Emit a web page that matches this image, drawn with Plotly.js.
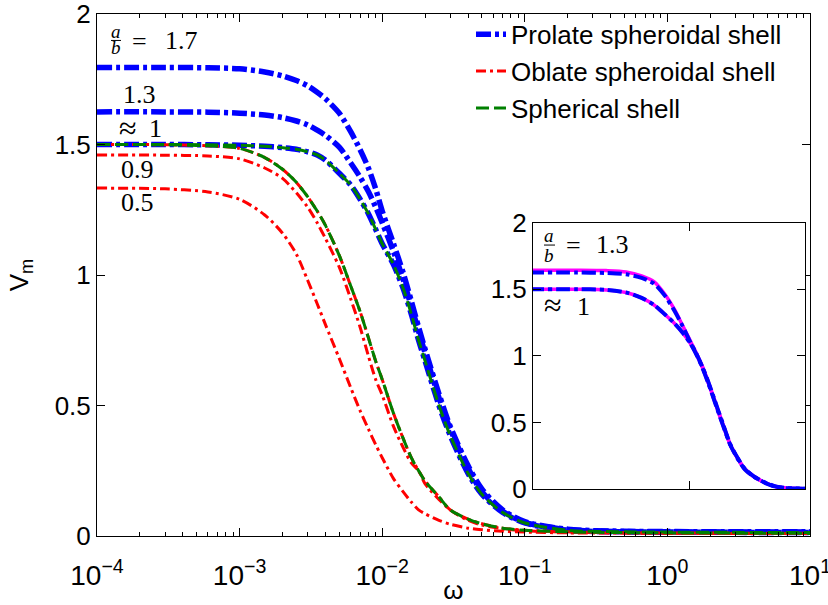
<!DOCTYPE html>
<html>
<head>
<meta charset="utf-8">
<script src="https://cdn.plot.ly/plotly-3.0.1.min.js"></script>
<style>html,body{margin:0;padding:0;background:#fff;}#chart{width:828px;height:605px;}</style>
</head>
<body>
<div id="chart"></div>
<script>
// ---- data ----
const omega = [1e-4, 3e-4, 6e-4, 1e-3, 1.5e-3, 2e-3, 2.5e-3, 3e-3, 3.5e-3, 4e-3,
  5e-3, 6e-3, 7e-3, 8e-3, 9e-3, 0.01, 0.012, 0.014, 0.016, 0.018, 0.02,
  0.025, 0.03, 0.04, 0.05, 0.07, 0.1, 0.2, 0.5, 1, 3, 10];

const prolate_17 = [1.795, 1.795, 1.794, 1.79, 1.778, 1.763, 1.745, 1.725, 1.70, 1.675,
  1.62, 1.55, 1.48, 1.41, 1.33, 1.245, 1.12, 1.01, 0.90, 0.80, 0.715,
  0.545, 0.42, 0.27, 0.18, 0.10, 0.055, 0.026, 0.018, 0.017, 0.016, 0.016];
const prolate_13 = [1.625, 1.625, 1.624, 1.62, 1.613, 1.603, 1.59, 1.575, 1.555, 1.535,
  1.49, 1.43, 1.375, 1.32, 1.26, 1.2, 1.09, 0.985, 0.88, 0.785, 0.70,
  0.53, 0.41, 0.26, 0.17, 0.095, 0.052, 0.024, 0.017, 0.016, 0.015, 0.015];
const prolate_1 = [1.5, 1.5, 1.499, 1.497, 1.493, 1.488, 1.482, 1.472, 1.46, 1.44,
  1.39, 1.345, 1.29, 1.235, 1.175, 1.12, 1.04, 0.95, 0.85, 0.75, 0.67,
  0.50, 0.385, 0.24, 0.16, 0.09, 0.05, 0.022, 0.016, 0.015, 0.014, 0.013];
const oblate_1 = [1.5, 1.499, 1.495, 1.485, 1.45, 1.405, 1.355, 1.30, 1.245, 1.19,
  1.075, 0.96, 0.86, 0.76, 0.67, 0.60, 0.47, 0.375, 0.30, 0.25, 0.21,
  0.15, 0.10, 0.065, 0.047, 0.03, 0.022, 0.016, 0.013, 0.012, 0.011, 0.01];
const oblate_09 = [1.46, 1.459, 1.456, 1.445, 1.41, 1.37, 1.315, 1.26, 1.20, 1.14,
  1.03, 0.91, 0.80, 0.69, 0.60, 0.54, 0.42, 0.34, 0.28, 0.25, 0.20,
  0.14, 0.10, 0.06, 0.042, 0.028, 0.02, 0.015, 0.012, 0.011, 0.01, 0.01];
const oblate_05 = [1.333, 1.33, 1.318, 1.29, 1.23, 1.16, 1.08, 0.98, 0.89, 0.81,
  0.68, 0.57, 0.48, 0.41, 0.35, 0.30, 0.22, 0.17, 0.13, 0.10, 0.085,
  0.06, 0.045, 0.03, 0.024, 0.018, 0.015, 0.012, 0.011, 0.01, 0.01, 0.01];
const spherical_P = [1.5, 1.5, 1.499, 1.497, 1.493, 1.488, 1.482, 1.472, 1.46, 1.44,
  1.39, 1.345, 1.29, 1.235, 1.175, 1.12, 1.04, 0.95, 0.85, 0.75, 0.67,
  0.50, 0.385, 0.24, 0.16, 0.09, 0.05, 0.022, 0.016, 0.015, 0.014, 0.013];
const spherical_O = [1.5, 1.499, 1.495, 1.485, 1.45, 1.405, 1.355, 1.30, 1.245, 1.19,
  1.075, 0.96, 0.86, 0.76, 0.67, 0.60, 0.47, 0.375, 0.30, 0.25, 0.21,
  0.15, 0.10, 0.065, 0.047, 0.03, 0.022, 0.016, 0.013, 0.012, 0.011, 0.01];

// inset
const insetOmega = [0.001, 0.002, 0.003, 0.004, 0.005, 0.006, 0.007, 0.008, 0.009, 0.01,
  0.011, 0.012, 0.013, 0.014, 0.015, 0.016, 0.018, 0.02, 0.022, 0.025, 0.03, 0.035, 0.04, 0.053];
const inset_ref_13 = [1.643, 1.643, 1.64, 1.63, 1.60, 1.555, 1.46, 1.35, 1.23, 1.12,
  1.02, 0.92, 0.81, 0.70, 0.595, 0.50, 0.33, 0.23, 0.155, 0.098, 0.045, 0.017, 0.008, 0.003];
const inset_fit_13 = [1.625, 1.625, 1.622, 1.612, 1.585, 1.54, 1.45, 1.34, 1.225, 1.11,
  1.015, 0.915, 0.81, 0.70, 0.595, 0.50, 0.33, 0.23, 0.155, 0.098, 0.045, 0.017, 0.008, 0.003];
const inset_ref_1 = [1.5, 1.5, 1.495, 1.475, 1.435, 1.38, 1.31, 1.245, 1.175, 1.10,
  1.01, 0.91, 0.80, 0.69, 0.585, 0.49, 0.325, 0.225, 0.15, 0.095, 0.043, 0.016, 0.007, 0.003];
const inset_fit_1 = [1.5, 1.5, 1.495, 1.475, 1.435, 1.38, 1.31, 1.245, 1.175, 1.10,
  1.01, 0.91, 0.80, 0.69, 0.585, 0.49, 0.325, 0.225, 0.15, 0.095, 0.043, 0.016, 0.007, 0.003];

const legendNames = ['Prolate spheroidal shell', 'Oblate spheroidal shell', 'Spherical shell'];
const xTickVals = [1e-4, 1e-3, 1e-2, 1e-1, 1, 10];
const xTickText = ['10<sup>−4</sup>', '10<sup>−3</sup>', '10<sup>−2</sup>', '10<sup>−1</sup>', '10<sup>0</sup>', '10<sup>1</sup>'];
const xMinorVals = [2e-4, 3e-4, 4e-4, 5e-4, 6e-4, 7e-4, 8e-4, 9e-4,
  2e-3, 3e-3, 4e-3, 5e-3, 6e-3, 7e-3, 8e-3, 9e-3,
  0.02, 0.03, 0.04, 0.05, 0.06, 0.07, 0.08, 0.09,
  0.2, 0.3, 0.4, 0.5, 0.6, 0.7, 0.8, 0.9,
  2, 3, 4, 5, 6, 7, 8, 9];
const yTickVals = [0, 0.5, 1, 1.5, 2];
const yTickText = ['0', '0.5', '1', '1.5', '2'];

const tickFont = 'Liberation Sans, Arial, Helvetica, sans-serif';
const serif = 'Liberation Serif, Times New Roman, serif';

// ---- styles ----
const BLUE = '#0000ff', RED = '#ff0000', GREEN = '#008000', MAG = '#ff00ff';
const blueLine = {color: BLUE, width: 5.5, dash: '15px,4px,4px,4px', shape: 'spline', smoothing: 0.8};
const redLine = {color: RED, width: 3, dash: '10px,4px,3px,4px', shape: 'spline', smoothing: 0.8};
const greenLine = {color: GREEN, width: 3, dash: '13px,5px', shape: 'spline', smoothing: 0.8};

function tr(y, line, name, show) {
  return {x: omega, y: y, type: 'scatter', mode: 'lines', line: line, name: name || '',
    showlegend: !!show, hoverinfo: 'skip'};
}
const traces = [
  tr(prolate_17, blueLine, legendNames[0], true),
  tr(prolate_13, blueLine),
  tr(prolate_1, blueLine),
  tr(oblate_1, redLine, legendNames[1], true),
  tr(oblate_09, redLine),
  tr(oblate_05, redLine),
  tr(spherical_P, greenLine, legendNames[2], true),
  tr(spherical_O, greenLine)
];
function itr(y, line) {
  return {x: insetOmega, y: y, xaxis: 'x2', yaxis: 'y2', type: 'scatter', mode: 'lines',
    line: line, showlegend: false, hoverinfo: 'skip'};
}
const magLine = {color: MAG, width: 3.5, shape: 'spline', smoothing: 0.8};
const insetBlue = {color: BLUE, width: 4, dash: '14px,4px,4px,4px', shape: 'spline', smoothing: 0.8};
traces.push(itr(inset_ref_13, magLine), itr(inset_ref_1, magLine),
  itr(inset_fit_13, insetBlue), itr(inset_fit_1, insetBlue));

// pixel -> paper helper for text labels
const L = 97, T = 13, W = 713, H = 523;
const P = (px, py) => ({x: (px - L) / W, y: (T + H - py) / H});
function txt(s, px, py, size, fam) {
  const p = P(px, py);
  return {text: s, x: p.x, y: p.y, xref: 'paper', yref: 'paper', showarrow: false,
    xanchor: 'center', yanchor: 'middle', font: {family: fam || serif, size: size || 26, color: 'black'}};
}
function bar(x0, x1, py) {
  const a = P(x0, py), b = P(x1, py);
  return {type: 'line', xref: 'paper', yref: 'paper', x0: a.x, x1: b.x, y0: a.y, y1: b.y,
    line: {color: 'black', width: 1}};
}
const annotations = [
  txt('<i>a</i>', 116, 31, 19), txt('<i>b</i>', 116, 47, 19), txt('=', 139.5, 41, 26), txt('1.7', 181, 40, 26),
  txt('1.3', 139.5, 94, 26),
  txt('≈', 128, 127, 32), txt('1', 155, 128, 26),
  txt('0.9', 137.5, 169, 26),
  txt('0.5', 137.5, 202, 26),
  txt('<i>a</i>', 549, 235, 19), txt('<i>b</i>', 549, 255, 19), txt('=', 573.5, 245, 26), txt('1.3', 612.5, 244, 26),
  txt('≈', 552.5, 305, 32), txt('1', 583.5, 306, 26)
];
const shapes = [bar(111, 121, 39.5), bar(544, 555, 244.5)];

const axBase = {showline: true, linecolor: 'black', linewidth: 1, mirror: 'allticks', ticks: 'inside',
  ticklen: 8, tickcolor: 'black', tickwidth: 1, showgrid: false, zeroline: false,
  ticklabeloverflow: 'allow',
  tickfont: {family: tickFont, size: 26, color: 'black'}};

const layout = {
  width: 828, height: 605,
  margin: {l: L, r: 828 - L - W, t: T, b: 605 - T - H},
  paper_bgcolor: 'white', plot_bgcolor: 'white',
  font: {family: tickFont, size: 26, color: 'black'},
  showlegend: true,
  legend: {x: (471 - L) / W, xanchor: 'left', y: 1.004, yanchor: 'top', bgcolor: 'rgba(0,0,0,0)',
    font: {family: tickFont, size: 26, color: 'black'}, tracegroupgap: 0, itemwidth: 30},
  xaxis: Object.assign({}, axBase, {type: 'log', range: [-4, 1], tickmode: 'array',
    tickvals: xTickVals, ticktext: xTickText, ticklabelstandoff: 14,
    tickfont: {family: tickFont, size: 28, color: 'black'},
    minor: {tickmode: 'array', tickvals: xMinorVals, ticks: 'inside', ticklen: 4, tickcolor: 'black', showgrid: false},
    title: {text: 'ω', font: {family: tickFont, size: 26}, standoff: 2}}),
  yaxis: Object.assign({}, axBase, {range: [0, 2], tickmode: 'array', tickvals: yTickVals, ticktext: yTickText,
    title: {text: 'V<sub>m</sub>', font: {family: tickFont, size: 26}, standoff: 18}}),
  xaxis2: Object.assign({}, axBase, {domain: [(533 - L) / W, (805 - L) / W], anchor: 'y2', type: 'log',
    range: [-2.98, -1.28], tickmode: 'array', tickvals: [0.01], showticklabels: false}),
  yaxis2: Object.assign({}, axBase, {domain: [(T + H - 489) / H, (T + H - 222) / H], anchor: 'x2',
    range: [0, 2], tickmode: 'array', tickvals: yTickVals, ticktext: yTickText}),
  annotations: annotations,
  shapes: shapes
};

Plotly.newPlot('chart', traces, layout, {staticPlot: true, displayModeBar: false});
</script>
</body>
</html>
